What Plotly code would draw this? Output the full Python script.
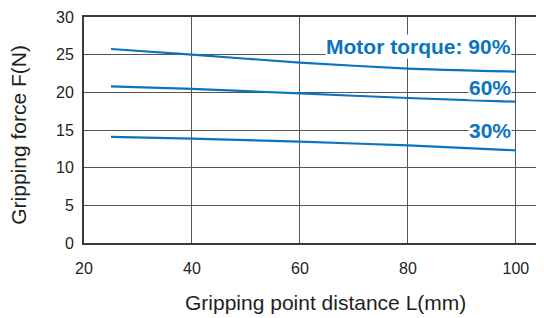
import plotly.graph_objects as go

distance_mm = [25, 40, 60, 80, 100]
force_90 = [25.75, 25.0, 23.95, 23.15, 22.75]
force_60 = [20.8, 20.45, 19.85, 19.25, 18.75]
force_30 = [14.1, 13.85, 13.45, 12.95, 12.3]
series_labels = ["Motor torque: 90%", "60%", "30%"]
label_y = [26.05, 20.6, 14.9]
label_x = 99.2
x_ticks = [20, 40, 60, 80, 100]
y_ticks = [0, 5, 10, 15, 20, 25, 30]
x_title = "Gripping point distance L(mm)"
y_title = "Gripping force F(N)"

BLUE = "#0b74bf"
GRID = "#555555"
TXT = "#231f20"
FONT = "Liberation Sans, Arial, sans-serif"

fig = go.Figure()
for ys in (force_90, force_60, force_30):
    fig.add_trace(go.Scatter(x=distance_mm, y=ys, mode="lines",
                             line=dict(color=BLUE, width=2.2, shape="spline", smoothing=0.6),
                             hoverinfo="skip", showlegend=False))

for txt, yv in zip(series_labels, label_y):
    fig.add_annotation(x=label_x, y=yv, text="<b>%s</b>" % txt, showarrow=False,
                       xanchor="right", yanchor="middle", bgcolor="white", borderpad=0,
                       font=dict(family=FONT, size=21, color=BLUE))

# axis titles as annotations for exact placement
fig.add_annotation(xref="paper", yref="paper", x=0.524, y=-0.265, text=x_title, showarrow=False,
                   xanchor="center", yanchor="middle", font=dict(family=FONT, size=21, color=TXT))
fig.add_annotation(xref="paper", yref="paper", x=-0.143, y=0.48, text=y_title, showarrow=False,
                   textangle=-90, xanchor="center", yanchor="middle",
                   font=dict(family=FONT, size=21, color=TXT))

# page body has an 8px margin; figure is sized so the plot lands where the reference has it
fig.update_layout(
    width=536, height=310,
    margin=dict(l=76, r=0, t=9, b=75),
    paper_bgcolor="white", plot_bgcolor="white",
    font=dict(family=FONT, color=TXT),
    xaxis=dict(range=[20, 105.2], tickvals=x_ticks, showgrid=True, gridcolor=GRID, gridwidth=1.4,
               showline=True, linecolor="#3a3a3a", linewidth=2, mirror=True, automargin=False,
               ticks="outside", ticklen=10, tickcolor="rgba(0,0,0,0)",
               tickfont=dict(size=16, color=TXT), zeroline=False),
    yaxis=dict(range=[0, 30], tickvals=y_ticks, showgrid=True, gridcolor=GRID, gridwidth=1.4,
               showline=True, linecolor="#3a3a3a", linewidth=2, automargin=False,
               ticks="outside", ticklen=5, tickcolor="rgba(0,0,0,0)",
               tickfont=dict(size=16, color=TXT), zeroline=False),
)

fig.write_html("out.html")
